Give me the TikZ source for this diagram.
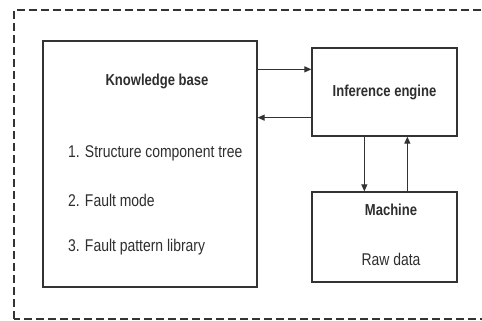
\documentclass[tikz,border=0pt]{standalone}
\usepackage{fontspec}
\setmainfont[FakeStretch=0.82]{Liberation Sans}
\usepackage{tikz}
\usetikzlibrary{positioning,calc,arrows.meta}
\colorlet{lineGray}{black!80}
\colorlet{textGray}{black!82}

\begin{document}
\begin{tikzpicture}[x=1pt, y=1pt,
    every node/.style={text=textGray},
    block/.style={draw=lineGray, line width=1.3pt, inner sep=0pt},
    title/.style={font=\fontsize{15.9}{18}\selectfont\bfseries},
    entry/.style={font=\fontsize{17}{19}\selectfont, inner sep=0pt},
    flow/.style={draw=lineGray, line width=1.1pt, -{Triangle[length=7pt,width=6pt]}}]
    \useasboundingbox (0,0) rectangle (482,321);

    % Outer frame, runs past the right edge
    \draw[lineGray, line width=1.4pt, dash pattern=on 8pt off 4pt] (14,2) rectangle (500,311);

    % Main blocks
    \node[block, minimum width=214, minimum height=246] (kb) at (150,157) {};
    \node[block, title, minimum width=145, minimum height=88] (engine) at (384.5,229) {Inference engine};
    \node[block, minimum width=145, minimum height=90] (machine) at (384.5,84) {};

    % Knowledge base contents
    \node[title] (kbTitle) at (157,240) {Knowledge base};
    \node[entry, anchor=west] (tree) at (68,168) {1. Structure component tree};
    \node[entry, anchor=west] (mode) at (68,121) {2. Fault mode};
    \node[entry, anchor=west] (library) at (68,74) {3. Fault pattern library};

    % Machine contents
    \node[title] (machTitle) at (391,111) {Machine};
    \node[entry] (raw) at (391,62) {Raw data};

    % Arrows between blocks
    \coordinate (fwd) at ($(engine.north west)+(0,-22)$);
    \coordinate (back) at ($(engine.south west)+(0,19)$);
    \coordinate (down) at ($(engine.south west)+(53,0)$);
    \coordinate (up) at ($(machine.north west)+(96,0)$);
    \draw[flow] (kb.east |- fwd) -- (fwd);
    \draw[flow] (back) -- (kb.east |- back);
    \draw[flow] (down) -- (down |- machine.north);
    \draw[flow] (up) -- (up |- engine.south);
\end{tikzpicture}
\end{document}
